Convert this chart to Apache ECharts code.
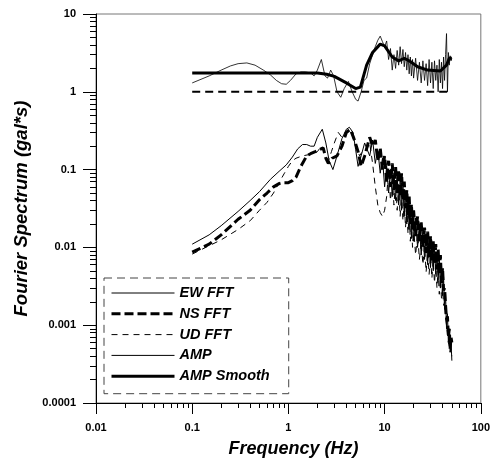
<!DOCTYPE html>
<html>
<head>
<meta charset="utf-8">
<script src="https://cdn.jsdelivr.net/npm/echarts@6/dist/echarts.min.js"></script>
<style>
  html, body { margin: 0; padding: 0; background: #fff; }
  #chart { width: 493px; height: 463px; }
</style>
</head>
<body>
<div id="chart"></div>
<script>
// low-frequency parts (Hz / gal*s)
const ewLoF = [0.1, 0.15, 0.2, 0.3, 0.4, 0.5, 0.65, 0.8, 0.95, 1.1, 1.25, 1.4, 1.55, 1.7, 1.85, 2.0, 2.25, 2.45, 2.65, 2.9, 3.2, 3.6, 4.0, 4.3, 4.7, 5.0, 5.3, 5.7, 6.2];
const ewLoV = [0.011, 0.0145, 0.019, 0.029, 0.04, 0.052, 0.075, 0.095, 0.115, 0.145, 0.185, 0.21, 0.21, 0.2, 0.2, 0.26, 0.33, 0.22, 0.13, 0.1, 0.15, 0.25, 0.33, 0.35, 0.3, 0.18, 0.11, 0.15, 0.22];

const nsLoF = [0.1, 0.15, 0.2, 0.3, 0.4, 0.5, 0.6, 0.7, 0.8, 0.9, 1.0, 1.1, 1.2, 1.3, 1.4, 1.55, 1.7, 1.9, 2.1, 2.3, 2.45, 2.6, 2.85, 3.2, 3.6, 4.0, 4.4, 4.8, 5.3, 5.7, 6.2];
const nsLoV = [0.0087, 0.011, 0.0145, 0.023, 0.03, 0.041, 0.05, 0.06, 0.066, 0.068, 0.068, 0.072, 0.08, 0.1, 0.12, 0.15, 0.16, 0.17, 0.18, 0.19, 0.14, 0.12, 0.14, 0.15, 0.2, 0.3, 0.33, 0.25, 0.17, 0.11, 0.15];

const udLoF = [0.1, 0.15, 0.2, 0.3, 0.4, 0.5, 0.6, 0.7, 0.8, 0.9, 1.0, 1.1, 1.2, 1.4, 1.6, 1.8, 2.0, 2.2, 2.4, 2.6, 2.8, 3.0, 3.3, 3.6, 3.9, 4.2, 4.6, 5.0, 5.5, 6.0];
const udLoV = [0.0082, 0.0105, 0.0125, 0.017, 0.022, 0.03, 0.038, 0.05, 0.068, 0.088, 0.11, 0.13, 0.14, 0.15, 0.155, 0.16, 0.17, 0.2, 0.16, 0.13, 0.17, 0.22, 0.3, 0.26, 0.3, 0.33, 0.28, 0.2, 0.15, 0.18];

const ampLoF = [0.1, 0.15, 0.2, 0.25, 0.3, 0.37, 0.45, 0.55, 0.65, 0.75, 0.85, 0.95, 1.05, 1.2, 1.35, 1.5, 1.7, 1.85, 2.0, 2.2, 2.4, 2.55, 2.75, 2.95, 3.2, 3.5, 3.8, 4.2, 4.6, 5.0, 5.3, 5.7, 6.1];
const ampLoV = [1.3, 1.6, 1.9, 2.15, 2.3, 2.35, 2.2, 1.9, 1.65, 1.4, 1.27, 1.25, 1.4, 1.7, 1.8, 1.8, 1.75, 1.6, 1.9, 2.6, 1.6, 1.5, 1.9, 1.6, 1.0, 0.85, 1.1, 1.36, 1.0, 0.8, 0.76, 1.0, 1.4];

// high-frequency parts share one frequency list
const hiF = [6.5, 7, 7.5, 8, 8.5, 9, 9.5, 10, 10.5, 11, 11.5, 12, 12.5, 13, 13.5, 14, 14.5, 15, 15.5, 16, 16.5, 17, 17.5, 18, 18.5, 19, 19.5, 20,
  21, 22, 23, 24, 25, 26, 27, 28, 29, 30, 31, 32, 33, 34, 35, 36, 37, 38, 39, 40, 41, 42, 43, 44, 45, 46, 47, 48, 49, 50];
const ewHiV = [0.22, 0.15, 0.24, 0.12, 0.18, 0.09, 0.14, 0.06, 0.11, 0.05, 0.1, 0.045, 0.09, 0.04, 0.085, 0.035, 0.07, 0.03, 0.065, 0.025, 0.05, 0.02, 0.042, 0.017, 0.035, 0.013, 0.028, 0.012,
  0.024, 0.01, 0.02, 0.008, 0.017, 0.007, 0.015, 0.006, 0.013, 0.0055, 0.011, 0.005, 0.01, 0.0045, 0.0085, 0.0038, 0.0075, 0.003, 0.006, 0.0024, 0.0042, 0.0016, 0.0025, 0.0009, 0.0014, 0.0006, 0.0009, 0.00045, 0.0006, 0.00035];
const nsHiV = [0.15, 0.26, 0.2, 0.24, 0.13, 0.19, 0.1, 0.15, 0.07, 0.13, 0.06, 0.12, 0.055, 0.11, 0.05, 0.1, 0.045, 0.09, 0.04, 0.07, 0.032, 0.055, 0.026, 0.045, 0.02, 0.036, 0.017, 0.03,
  0.014, 0.025, 0.012, 0.021, 0.01, 0.018, 0.0085, 0.016, 0.0075, 0.014, 0.0068, 0.012, 0.006, 0.011, 0.0052, 0.0095, 0.0045, 0.008, 0.0035, 0.0055, 0.0028, 0.003, 0.0018, 0.0012, 0.0013, 0.0007, 0.0009, 0.0005, 0.0007, 0.0006];
const udHiV = [0.18, 0.22, 0.12, 0.06, 0.035, 0.028, 0.025, 0.03, 0.045, 0.1, 0.04, 0.08, 0.035, 0.07, 0.03, 0.06, 0.025, 0.05, 0.022, 0.04, 0.018, 0.035, 0.015, 0.028, 0.012, 0.022, 0.01, 0.018,
  0.008, 0.015, 0.007, 0.012, 0.006, 0.0105, 0.0048, 0.009, 0.0045, 0.008, 0.004, 0.007, 0.0035, 0.006, 0.003, 0.005, 0.0025, 0.004, 0.0022, 0.003, 0.0018, 0.002, 0.0012, 0.001, 0.0008, 0.0006, 0.0006, 0.00045, 0.0005, 0.0004];
const ampHiV = [1.5, 2.3, 3.0, 3.8, 4.6, 5.2, 4.4, 3.8, 4.5, 2.6, 3.6, 1.9, 3.0, 2.0, 3.4, 2.2, 3.8, 2.3, 3.5, 2.1, 3.2, 1.9, 3.0, 1.7, 2.8, 1.6, 2.6, 1.5,
  2.7, 1.4, 2.4, 1.3, 2.5, 1.4, 2.3, 1.2, 2.6, 1.3, 2.4, 1.1, 2.5, 1.4, 2.2, 1.0, 2.6, 1.3, 2.4, 1.1, 2.8, 1.4, 3.0, 5.6, 1.0, 3.2, 2.2, 2.9, 2.5, 2.7];

const smoothF = [0.1, 1.5, 2.0, 2.5, 3.0, 4.0, 5.0, 5.6, 6.5, 7.5, 9.0, 10, 12, 14, 16, 18, 22, 28, 38, 44, 47, 50];
const smoothV = [1.75, 1.75, 1.74, 1.68, 1.58, 1.3, 1.1, 1.15, 2.2, 3.2, 4.1, 3.9, 2.8, 2.5, 2.7, 2.5, 2.1, 1.9, 1.85, 2.2, 2.7, 2.7];

const unityF = [0.1, 50];
const unityV = [1, 1];

const legendNames = ['EW FFT', 'NS FFT', 'UD FFT', 'AMP', 'AMP Smooth'];

const pairs = (xs, ys) => xs.map((x, i) => [x, ys[i]]);

const minorX = [];
const minorY = [];
[0.01, 0.1, 1, 10].forEach((d) => { for (let k = 2; k <= 9; k++) minorX.push(+(d * k).toPrecision(2)); });
[0.0001, 0.001, 0.01, 0.1, 1].forEach((d) => { for (let k = 2; k <= 9; k++) minorY.push(+(d * k).toPrecision(2)); });

const font = 'Liberation Sans, Arial, sans-serif';
const lbl = (v) => String(+(+v).toPrecision(1));

const styles = {
  'EW FFT': { width: 1, type: 'solid' },
  'NS FFT': { width: 3, type: [9, 4] },
  'UD FFT': { width: 1, type: [6, 5] },
  'AMP': { width: 0.8, type: 'solid' },
  'AMP Smooth': { width: 3, type: 'solid' },
  'unity': { width: 2, type: [8, 5] },
};

const line = (name, data) => ({
  name,
  type: 'line',
  data,
  symbol: 'none',
  showSymbol: false,
  lineStyle: { color: '#000', width: styles[name].width, type: styles[name].type },
  itemStyle: { color: '#000' },
  silent: true,
});

const option = {
  animation: false,
  backgroundColor: '#fff',
  grid: { left: 96, right: 6, top: 14, bottom: 58, show: true, borderColor: '#777', borderWidth: 1 },
  legend: {
    data: legendNames.map((n) => ({
      name: n,
      itemStyle: { opacity: 0 },
      lineStyle: { color: '#000', width: n === 'AMP' ? 1 : styles[n].width, type: styles[n].type },
    })),
    orient: 'vertical',
    left: 104,
    top: 278,
    itemWidth: 63,
    itemHeight: 14,
    itemGap: 5.8,
    padding: [7.5, 19, 10, 6],
    borderColor: '#444',
    borderWidth: 1,
    borderType: [8, 5],
    textStyle: { fontFamily: font, fontWeight: 'bold', fontStyle: 'italic', fontSize: 14.5, color: '#000' },
  },
  xAxis: [{
    type: 'log', logBase: 10, min: 0.01, max: 100,
    name: 'Frequency (Hz)', nameLocation: 'middle', nameGap: 37,
    nameTextStyle: { fontFamily: font, fontWeight: 'bold', fontStyle: 'italic', fontSize: 18, color: '#000', padding: [0, 0, 0, 10] },
    axisLine: { lineStyle: { color: '#000', width: 1 } },
    axisTick: { length: 11, lineStyle: { color: '#000' } },
    axisLabel: { margin: 19, fontFamily: font, fontWeight: 'bold', fontSize: 11, color: '#000', formatter: lbl },
    splitLine: { show: false },
  }, {
    type: 'log', logBase: 10, min: 0.01, max: 100, position: 'bottom',
    axisLine: { show: false },
    axisTick: { length: 5, customValues: minorX, lineStyle: { color: '#000' } },
    axisLabel: { show: false },
    splitLine: { show: false },
  }],
  yAxis: [{
    type: 'log', logBase: 10, min: 0.0001, max: 10,
    name: 'Fourier Spectrum (gal*s)', nameLocation: 'middle', nameGap: 65,
    nameTextStyle: { fontFamily: font, fontWeight: 'bold', fontStyle: 'italic', fontSize: 18.5, color: '#000' },
    axisLine: { lineStyle: { color: '#000', width: 1 } },
    axisTick: { length: 13, lineStyle: { color: '#000' } },
    axisLabel: { margin: 20, fontFamily: font, fontWeight: 'bold', fontSize: 11, color: '#000', formatter: lbl },
    splitLine: { show: false },
  }, {
    type: 'log', logBase: 10, min: 0.0001, max: 10, position: 'left',
    axisLine: { show: false },
    axisTick: { length: 6, customValues: minorY, lineStyle: { color: '#000' } },
    axisLabel: { show: false },
    splitLine: { show: false },
  }],
  series: [
    line('EW FFT', pairs(ewLoF.concat(hiF), ewLoV.concat(ewHiV))),
    line('NS FFT', pairs(nsLoF.concat(hiF), nsLoV.concat(nsHiV))),
    line('UD FFT', pairs(udLoF.concat(hiF), udLoV.concat(udHiV))),
    line('AMP', pairs(ampLoF.concat(hiF), ampLoV.concat(ampHiV))),
    line('AMP Smooth', pairs(smoothF, smoothV)),
    line('unity', pairs(unityF, unityV)),
  ],
};

const myChart = echarts.init(document.getElementById('chart'));
myChart.setOption(option);
</script>
</body>
</html>
